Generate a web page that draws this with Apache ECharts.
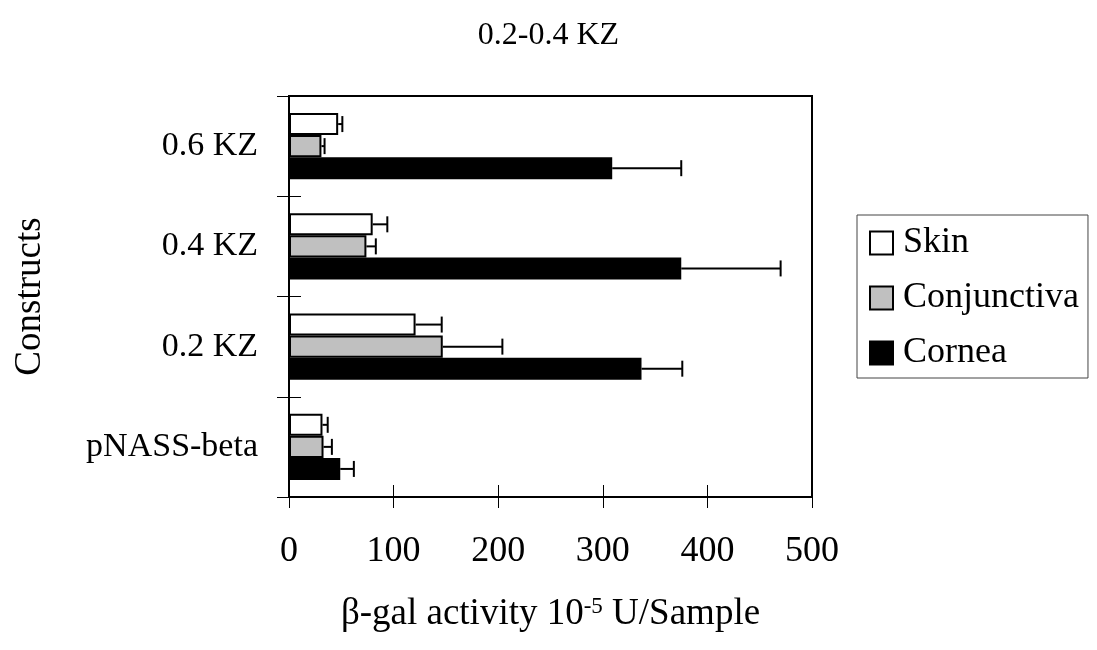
<!DOCTYPE html>
<html>
<head>
<meta charset="utf-8">
<script src="https://cdn.jsdelivr.net/npm/echarts@6/dist/echarts.min.js"></script>
<style>
  html, body { margin: 0; padding: 0; background: #fff; }
  #chart { width: 1097px; height: 650px; }
</style>
</head>
<body>
<div id="chart"></div>
<script>
var categories = ['pNASS-beta', '0.2 KZ', '0.4 KZ', '0.6 KZ']
var skin = [32, 121, 80, 47]
var skinErr = [5, 25, 14, 4]
var conjunctiva = [33, 147, 74, 31]
var conjunctivaErr = [8, 57, 9, 3]
var cornea = [49, 337, 375, 309]
var corneaErr = [13, 39, 95, 66]
var xTicks = [0, 100, 200, 300, 400, 500]

var font = 'Liberation Serif'
var chart = echarts.init(document.getElementById('chart'))

// error bars: offset is the bar's centre as a fraction of the band (up is negative)
function errorSeries (vals, errs, offset) {
  return {
    type: 'custom',
    silent: true,
    z: 5,
    encode: { x: 0, y: 1 },
    data: vals.map(function (v, i) { return [v, i, errs[i]] }),
    renderItem: function (params, api) {
      var v = api.value(0)
      var e = api.value(2)
      var c = api.value(1)
      var p0 = api.coord([v, c])
      var p1 = api.coord([v + e, c])
      var band = api.size([0, 1])[1]
      var y = p0[1] + offset * band
      var st = { stroke: '#000', lineWidth: 2 }
      return {
        type: 'group',
        children: [
          { type: 'line', shape: { x1: p0[0], y1: y, x2: p1[0], y2: y }, style: st },
          { type: 'line', shape: { x1: p1[0], y1: y - 8, x2: p1[0], y2: y + 8 }, style: st }
        ]
      }
    }
  }
}

var option = {
  animation: false,
  textStyle: { fontFamily: font, color: '#000' },
  title: {
    text: '0.2-0.4 KZ',
    left: 'center',
    top: 15,
    textStyle: { fontFamily: font, fontSize: 32, fontWeight: 'normal', color: '#000' }
  },
  legend: {
    orient: 'vertical',
    left: 857,
    top: 215,
    padding: [10, 9, 7, 12],
    itemGap: 19,
    itemWidth: 23,
    itemHeight: 23,
    borderColor: '#444',
    borderWidth: 1,
    icon: 'rect',
    data: ['Skin', 'Conjunctiva', 'Cornea'],
    textStyle: { fontFamily: font, fontSize: 36, color: '#000', padding: [0, 0, 0, 5] }
  },
  grid: {
    left: 289,
    right: 285,
    top: 96,
    bottom: 153,
    show: true,
    borderColor: '#000',
    borderWidth: 2
  },
  xAxis: [
    {
      type: 'value',
      min: 0,
      max: 500,
      interval: 100,
      splitLine: { show: false },
      axisLine: { show: true, lineStyle: { color: '#000', width: 2 } },
      axisTick: { show: true, length: 11, lineStyle: { color: '#000' } },
      axisLabel: {
        margin: 37,
        fontFamily: font,
        fontSize: 36,
        color: '#000',
        formatter: function (v) { return xTicks.indexOf(v) >= 0 ? String(v) : '' }
      },
      name: '{a|β-gal activity 10}{s|-5}{a| U/Sample}',
      nameLocation: 'middle',
      nameGap: 98,
      nameTextStyle: {
        rich: {
          a: { fontFamily: font, fontSize: 37, color: '#000' },
          s: { fontFamily: font, fontSize: 23, color: '#000', verticalAlign: 'top', padding: [0, 0, 16, 0] }
        }
      }
    },
    {
      type: 'value',
      position: 'bottom',
      min: 0,
      max: 500,
      interval: 100,
      splitLine: { show: false },
      axisLine: { show: false },
      axisTick: { show: true, inside: true, length: 12, lineStyle: { color: '#000' } },
      axisLabel: { show: false }
    }
  ],
  yAxis: [
    {
      type: 'category',
      data: categories,
      axisLine: { show: true, lineStyle: { color: '#000', width: 2 } },
      axisTick: { show: true, length: 12, lineStyle: { color: '#000' } },
      axisLabel: { margin: 31, fontFamily: font, fontSize: 34, color: '#000' },
      name: 'Constructs',
      nameLocation: 'middle',
      nameRotate: 90,
      nameGap: 240,
      nameTextStyle: { fontFamily: font, fontSize: 37, color: '#000' }
    },
    {
      type: 'category',
      position: 'left',
      data: categories,
      axisLine: { show: false },
      axisTick: { show: true, inside: true, length: 12, lineStyle: { color: '#000' } },
      axisLabel: { show: false }
    }
  ],
  series: [
    {
      name: 'Skin',
      type: 'bar',
      data: skin,
      barGap: 0,
      barCategoryGap: '34%',
      itemStyle: { color: '#fff', borderColor: '#000', borderWidth: 2 }
    },
    {
      name: 'Conjunctiva',
      type: 'bar',
      data: conjunctiva,
      itemStyle: { color: '#c0c0c0', borderColor: '#000', borderWidth: 2 }
    },
    {
      name: 'Cornea',
      type: 'bar',
      data: cornea,
      itemStyle: { color: '#000', borderColor: '#000', borderWidth: 2 }
    },
    errorSeries(skin, skinErr, -0.22),
    errorSeries(conjunctiva, conjunctivaErr, 0),
    errorSeries(cornea, corneaErr, 0.22)
  ]
}
chart.setOption(option)
</script>
</body>
</html>
